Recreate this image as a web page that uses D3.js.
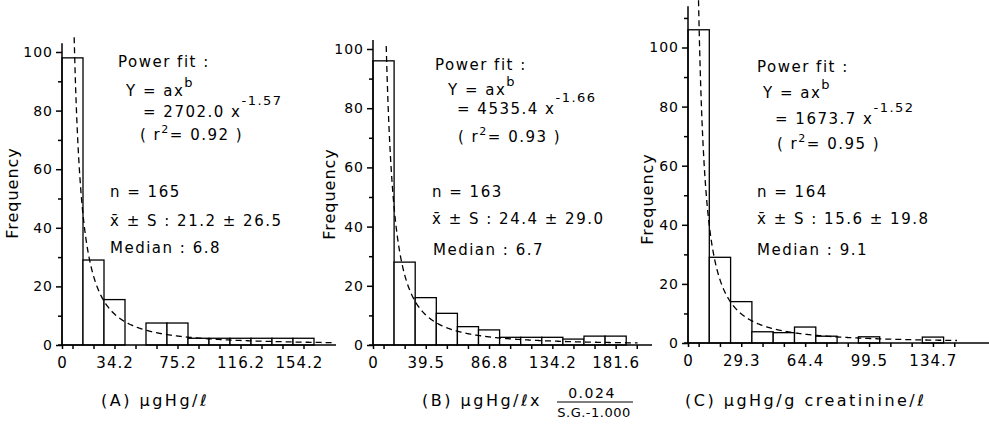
<!DOCTYPE html>
<html lang="en">
<head>
<meta charset="UTF-8">
<script src="https://d3js.org/d3.v7.min.js"></script>
<title>Hg histograms</title>
<style>
    body { margin: 0; background: #fff; }
    text { font-family: 'DejaVu Sans', sans-serif; fill: #000; }
    .note { font-size: 15px; letter-spacing: 1.5px; }
    .xlab { font-size: 16px; letter-spacing: 2.5px; }
    .ylab { font-size: 16px; letter-spacing: 1px; }
    .axis text { font-size: 15px; letter-spacing: 1px; font-family: 'DejaVu Sans', sans-serif; }
    .axis path, .axis line { stroke: #000; stroke-width: 1.5; }
</style>
</head>
<body>
<svg width="989" height="425"></svg>
<script>
    // bin width (in units) of each histogram
    const binWidths = [13.67, 15.79, 11.72];

    // frequencies per bin
    const freqA = [98, 29, 15.5, 0, 7.5, 7.5, 2.3, 2.3, 2.3, 2.3, 2.3, 2.3];
    const freqB = [96, 28, 16, 10.7, 6.2, 5.1, 2.6, 2.6, 2.6, 2, 3, 3];
    const freqC = [106, 29, 14, 3.8, 3.5, 5.4, 2.3, 0, 2.1, 0, 0, 2];

    // labelled x ticks
    const ticksA = [0, 34.2, 75.2, 116.2, 154.2];
    const ticksB = [0, 39.5, 86.8, 134.2, 181.6];
    const ticksC = [0, 29.3, 64.4, 99.5, 134.7];

    // power fit Y = a x^b and summary stats
    const fitA = [2702.0, 4535.4, 1673.7];
    const fitB = [-1.57, -1.66, -1.52];
    const rSquared = [0.92, 0.93, 0.95];
    const nObs = [165, 163, 164];
    const means = [21.2, 24.4, 15.6];
    const sds = [26.5, 29.0, 19.8];
    const medians = [6.8, 6.7, 9.1];

    const xTitles = ["(A) \u03bcgHg/\u2113", "(B) \u03bcgHg/\u2113x", "(C) \u03bcgHg/g creatinine/\u2113"];
    const fracB = ["0.024", "S.G.-1.000"];

    const svg = d3.select("svg");

    const panels = [
        {i: 0, freq: freqA, ticks: ticksA, x0: 62, x1: 336, pxBin: 21, nTicks: 12,
         yBase: 345, y100: 52, yMax: 103, fitTop: 105, fitEnd: 178,
         ylab: [18, 193], pos: {pf: [118, 67], ye: [126, 96], ae: [143, 117], r2: [140, 140], n: [110, 197], m: [110, 226], md: [110, 253]},
         title: [101, 406]},
        {i: 1, freq: freqB, ticks: ticksB, x0: 373, x1: 652, pxBin: 21.1, nTicks: 13,
         yBase: 345, y100: 49, yMax: 103, fitTop: 101, fitEnd: 198,
         ylab: [335, 194], pos: {pf: [435, 70], ye: [448, 95], ae: [457, 114], r2: [458, 142], n: [432, 197], m: [432, 224], md: [433, 255]},
         title: [422, 406]},
        {i: 2, freq: freqC, ticks: ticksC, x0: 688, x1: 989, pxBin: 21.3, nTicks: 13,
         yBase: 343, y100: 47.5, yMax: 114, fitTop: 116, fitEnd: 148,
         ylab: [653, 199], pos: {pf: [757, 72], ye: [763, 98], ae: [775, 124], r2: [777, 149], n: [757, 197], m: [757, 224], md: [757, 255]},
         title: [685, 406]}
    ];

    panels.forEach(drawPanel);

    function drawPanel(p) {
        const w = binWidths[p.i];
        const xMax = (p.x1 - p.x0) / p.pxBin * w;
        const x = d3.scaleLinear().domain([0, xMax]).range([p.x0, p.x1]);
        const y = d3.scaleLinear().domain([0, 100]).range([p.yBase, p.y100]);
        const g = svg.append("g");

        // bars
        g.selectAll("rect").data(p.freq.map((f, k) => ({f, k})).filter(d => d.f > 0))
            .enter().append("rect")
            .attr("x", d => x(d.k * w)).attr("width", d => x((d.k + 1) * w) - x(d.k * w))
            .attr("y", d => y(d.f)).attr("height", d => y(0) - y(d.f))
            .attr("fill", "#fff").attr("stroke", "#000").attr("stroke-width", 1.3);

        // fitted power curve
        const a = fitA[p.i], b = fitB[p.i];
        const xs = Math.pow(p.fitTop / a, 1 / b);
        const pts = d3.range(0, 500).map(j => xs + (p.fitEnd - xs) * j / 499);
        g.append("path")
            .attr("d", d3.line().x(d => x(d)).y(d => y(a * Math.pow(d, b)))(pts))
            .attr("fill", "none").attr("stroke", "#000").attr("stroke-width", 1.3)
            .attr("stroke-dasharray", "6,4");

        // y axis
        const ya = g.append("g").attr("class", "axis").attr("transform", `translate(${p.x0},0)`);
        ya.call(d3.axisLeft(y).tickValues(d3.range(0, 101, 20)).tickSize(6).tickPadding(3));
        ya.select(".domain").remove();
        const ym = g.append("g").attr("class", "axis").attr("transform", `translate(${p.x0},0)`);
        ym.call(d3.axisLeft(y).tickValues(d3.range(10, p.yMax, 20)).tickSize(4).tickFormat(""));
        ym.select(".domain").remove();
        g.append("line").attr("x1", p.x0).attr("x2", p.x0).attr("y1", y(0)).attr("y2", y(p.yMax))
            .attr("stroke", "#000").attr("stroke-width", 1.5);
        ya.selectAll("text").style("font-size", "14px");

        // x axis
        const mids = d3.range(p.nTicks).map(k => (k + 0.5) * w);
        const xa = g.append("g").attr("class", "axis").attr("transform", `translate(0,${p.yBase})`);
        xa.call(d3.axisBottom(x).tickValues([0].concat(mids)).tickSize(4).tickFormat(""));
        xa.select(".domain").remove();
        g.append("line").attr("x1", p.x0 - 4).attr("x2", p.x1).attr("y1", p.yBase).attr("y2", p.yBase)
            .attr("stroke", "#000").attr("stroke-width", 1.5);
        const xl = g.append("g").attr("class", "axis").attr("transform", `translate(0,${p.yBase})`);
        xl.call(d3.axisBottom(x).tickValues(p.ticks).tickSize(0).tickPadding(12).tickFormat(d => d));
        xl.select(".domain").remove();

        // y label
        g.append("text").attr("class", "ylab")
            .attr("transform", `translate(${p.ylab[0]},${p.ylab[1]}) rotate(-90)`)
            .attr("text-anchor", "middle").text("Frequency");

        // annotations
        const q = p.pos;
        const t = (xy) => g.append("text").attr("class", "note").attr("x", xy[0]).attr("y", xy[1]);
        t(q.pf).text("Power fit :");
        const ye = t(q.ye).text("Y = ax");
        ye.append("tspan").attr("dy", -9).style("font-size", "13px").text("b");
        const ae = t(q.ae).text(`= ${a.toFixed(1)} x`);
        ae.append("tspan").attr("dy", -12).style("font-size", "13px").text(b.toFixed(2));
        const r2 = t(q.r2).text("( r");
        r2.append("tspan").attr("dy", -7).style("font-size", "11px").text("2");
        r2.append("tspan").attr("dy", 7).text(`= ${rSquared[p.i].toFixed(2)} )`);
        t(q.n).text(`n = ${nObs[p.i]}`);
        t(q.m).text(`x\u0304 \u00b1 S : ${means[p.i].toFixed(1)} \u00b1 ${sds[p.i].toFixed(1)}`);
        t(q.md).text(`Median : ${medians[p.i].toFixed(1)}`);

        // x title
        g.append("text").attr("class", "xlab").attr("x", p.title[0]).attr("y", p.title[1]).text(xTitles[p.i]);
    }

    // fraction in the (B) title
    svg.append("text").attr("class", "xlab").attr("x", 592).attr("y", 398).attr("text-anchor", "middle")
        .style("font-size", "14px").style("letter-spacing", "1.5px").text(fracB[0]);
    svg.append("line").attr("x1", 557).attr("x2", 633).attr("y1", 402).attr("y2", 402)
        .attr("stroke", "#000").attr("stroke-width", 1.2);
    svg.append("text").attr("class", "xlab").attr("x", 594).attr("y", 417).attr("text-anchor", "middle")
        .style("font-size", "13px").style("letter-spacing", "0.5px").text(fracB[1]);
</script>
</body>
</html>
